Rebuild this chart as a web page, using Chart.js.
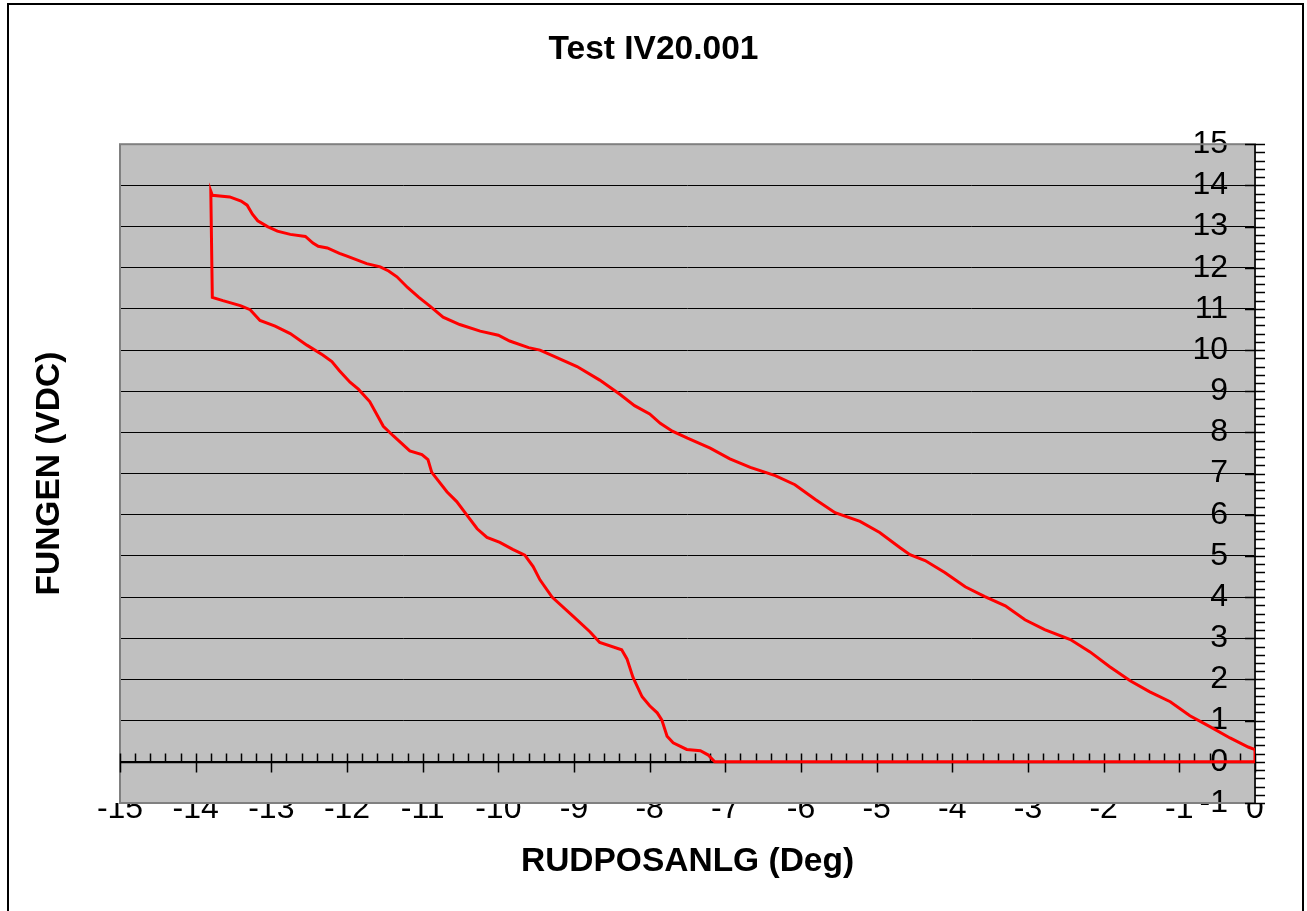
<!DOCTYPE html>
<html>
<head>
<meta charset="utf-8">
<title>Test IV20.001</title>
<script src="https://cdn.jsdelivr.net/npm/chart.js@4.4.1/dist/chart.umd.min.js"></script>
<style>
    html, body { margin: 0; padding: 0; background: #fff; }
    canvas { display: block; }
</style>
</head>
<body>
<canvas id="ivChart" width="1307" height="911"></canvas>
<script>
// Axis ranges
const xMin = -15, xMax = 0;
const yMin = -1, yMax = 15;

// One closed loop: flat zero segment, lower branch up, jump at the stop, upper branch back down
const rudPos = [
    0, 0, -7.14,
    -7.23, -7.33, -7.51, -7.69, -7.77, -7.84, -7.9, -8.0, -8.1, -8.22, -8.3, -8.37,
    -8.66, -8.79, -9.01, -9.29, -9.45, -9.54, -9.65, -9.81, -9.98, -10.15, -10.28,
    -10.44, -10.55, -10.68, -10.88, -10.93, -11.01, -11.17, -11.39, -11.52, -11.7,
    -11.85, -11.96, -12.1, -12.2, -12.32, -12.53, -12.75, -12.95, -13.15, -13.28,
    -13.41, -13.64, -13.78,
    -13.8,
    -13.78, -13.55, -13.4, -13.32, -13.25, -13.18, -13.05, -12.92, -12.75, -12.55,
    -12.45, -12.38, -12.26, -12.1, -12.0, -11.74, -11.56, -11.45, -11.34, -11.2,
    -11.05, -10.9, -10.73, -10.51, -10.24, -10.0, -9.85, -9.6, -9.45, -9.3, -8.96,
    -8.66, -8.39, -8.2, -8.0, -7.86, -7.7, -7.5, -7.2, -6.94, -6.67, -6.34, -6.08,
    -5.81, -5.55, -5.22, -4.96, -4.69, -4.56, -4.36, -4.1, -3.83, -3.57, -3.3, -3.04,
    -2.78, -2.44, -2.18, -1.92, -1.65, -1.39, -1.12, -0.86, -0.59, -0.33, -0.09, 0
];
const funGen = [
    0.3, 0, 0,
    0.17, 0.27, 0.3, 0.46, 0.62, 1.02, 1.19, 1.36, 1.58, 2.05, 2.5, 2.72,
    2.9, 3.16, 3.53, 4.0, 4.42, 4.74, 5.02, 5.16, 5.33, 5.45, 5.66,
    6.05, 6.32, 6.56, 7.03, 7.34, 7.46, 7.55, 7.92, 8.15, 8.75,
    9.05, 9.22, 9.5, 9.72, 9.88, 10.12, 10.4, 10.58, 10.72, 10.98,
    11.08, 11.2, 11.28,
    13.86,
    13.76, 13.72, 13.62, 13.52, 13.3, 13.14, 13.0, 12.89, 12.81, 12.76,
    12.6, 12.52, 12.48, 12.35, 12.28, 12.1, 12.02, 11.92, 11.78, 11.52,
    11.28, 11.06, 10.8, 10.62, 10.46, 10.36, 10.22, 10.06, 10.0, 9.88, 9.6,
    9.27, 8.92, 8.65, 8.45, 8.22, 8.03, 7.86, 7.62, 7.36, 7.15, 6.95, 6.73,
    6.37, 6.05, 5.84, 5.57, 5.2, 5.03, 4.89, 4.6, 4.25, 4.01, 3.79, 3.45,
    3.21, 2.97, 2.67, 2.31, 1.97, 1.7, 1.46, 1.12, 0.85, 0.58, 0.36, 0.3
];

Chart.defaults.font.family = '"Liberation Sans", Arial, sans-serif';
Chart.defaults.color = '#000';

// Excel style plot: grey area, axes crossing at zero with minor ticks, outer frame
const excelFrame = {
    id: 'excelFrame',
    beforeDraw(chart) {
        const { ctx, chartArea: a } = chart;
        ctx.save();
        ctx.fillStyle = '#fff';
        ctx.fillRect(0, 0, chart.width, chart.height);
        ctx.fillStyle = '#c0c0c0';
        ctx.fillRect(a.left, a.top, a.right - a.left, a.bottom - a.top);
        ctx.restore();
    },
    beforeDatasetsDraw(chart) {
        const { ctx, chartArea: a, scales: { x, y } } = chart;
        ctx.save();
        ctx.strokeStyle = '#808080';
        ctx.lineWidth = 2;
        ctx.strokeRect(a.left, a.top, a.right - a.left, a.bottom - a.top);

        const x0 = x.getPixelForValue(0);
        const y0 = Math.round(y.getPixelForValue(0)) + 0.5;
        ctx.strokeStyle = '#000';
        ctx.lineWidth = 1.5;
        ctx.beginPath();
        ctx.moveTo(a.left, y0);
        ctx.lineTo(a.right, y0);
        ctx.moveTo(x0, a.top);
        ctx.lineTo(x0, a.bottom);
        for (let i = xMin * 5; i <= xMax * 5; i++) {
            const px = Math.round(x.getPixelForValue(i / 5)) + 0.5;
            const major = i % 5 === 0;
            ctx.moveTo(px, y0 - 9);
            ctx.lineTo(px, major ? y0 + 10 : y0);
        }
        for (let j = yMin * 5; j <= yMax * 5; j++) {
            const py = Math.round(y.getPixelForValue(j / 5)) + 0.5;
            const major = j % 5 === 0;
            ctx.moveTo(major ? x0 - 10 : x0, py);
            ctx.lineTo(x0 + 10, py);
        }
        ctx.stroke();
        ctx.restore();
    },
    afterDraw(chart) {
        const { ctx } = chart;
        ctx.save();
        ctx.strokeStyle = '#000';
        ctx.lineWidth = 2;
        ctx.strokeRect(8, 4, 1295, chart.height + 10);
        ctx.restore();
    }
};

new Chart(document.getElementById('ivChart'), {
    type: 'scatter',
    data: {
        datasets: [{
            label: 'FUNGEN',
            data: rudPos.map((v, i) => ({ x: v, y: funGen[i] })),
            showLine: true,
            borderColor: '#ff0000',
            borderWidth: 3,
            pointRadius: 0,
            tension: 0,
            fill: false
        }]
    },
    options: {
        responsive: false,
        animation: false,
        devicePixelRatio: 1,
        layout: { padding: 0 },
        plugins: {
            legend: { display: false },
            tooltip: { enabled: false },
            title: {
                display: true,
                text: 'Test IV20.001',
                font: { size: 33.5, weight: 'bold' },
                color: '#000',
                padding: { top: 30, bottom: 74 }
            }
        },
        scales: {
            x: {
                type: 'linear',
                position: 'bottom',
                min: xMin,
                max: xMax,
                ticks: { stepSize: 1, font: { size: 32 }, color: '#000', padding: -13, maxRotation: 0, autoSkip: false },
                grid: { display: false, drawTicks: false },
                border: { display: false },
                title: {
                    display: true,
                    text: 'RUDPOSANLG (Deg)',
                    font: { size: 33.5, weight: 'bold' },
                    color: '#000',
                    padding: { top: 0, bottom: 29 }
                },
                afterFit(scale) { scale.height = 108; }
            },
            y: {
                type: 'linear',
                position: 'right',
                min: yMin,
                max: yMax,
                ticks: { stepSize: 1, mirror: true, padding: -27, font: { size: 32 }, color: '#000', autoSkip: false },
                grid: { color: '#000', lineWidth: 1, drawTicks: false },
                border: { display: false },
                afterFit(scale) { scale.width = 52; }
            },
            yTitle: {
                type: 'linear',
                position: 'left',
                display: true,
                min: yMin,
                max: yMax,
                ticks: { display: false },
                grid: { display: false, drawTicks: false },
                border: { display: false },
                title: {
                    display: true,
                    text: 'FUNGEN (VDC)',
                    font: { size: 33.5, weight: 'bold' },
                    color: '#000',
                    padding: { top: 30, bottom: 0 }
                },
                afterFit(scale) { scale.width = 120; }
            }
        }
    },
    plugins: [excelFrame]
});
</script>
</body>
</html>
